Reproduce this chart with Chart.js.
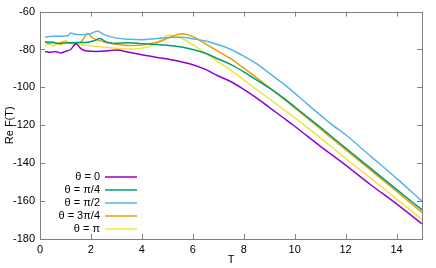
<!DOCTYPE html>
<html>
<head>
<meta charset="utf-8">
<script src="https://cdn.jsdelivr.net/npm/chart.js@4.4.1/dist/chart.umd.min.js"></script>
<style>
  html, body { margin: 0; padding: 0; background: #fff; }
  #wrap { width: 436px; height: 268px; position: relative; }
</style>
</head>
<body>
<div id="wrap"><canvas id="chart"></canvas></div>
<script>
// series labels and colours (gnuplot defaults)
const LABELS = ['θ = 0', 'θ = π/4', 'θ = π/2', 'θ = 3π/4', 'θ = π'];
const COLORS = ['#9400d3', '#009e73', '#56b4e9', '#e69f00', '#f0e442'];

const X_TICKS = [0, 2, 4, 6, 8, 10, 12, 14];
const Y_TICKS = [-180, -160, -140, -120, -100, -80, -60];

// theta = 0
const tPurple = [0.2, 0.4, 0.6, 0.8, 1.0, 1.2, 1.42, 1.6, 1.84, 2.2, 2.6, 3.0, 3.5, 4, 4.5, 5, 5.5, 6, 6.5, 7, 7.5, 8, 8.5, 9, 9.5, 10, 11, 12, 13, 14, 15];
const vPurple = [-81, -81.5, -81, -81.8, -81, -80, -77, -79.5, -80.8, -81, -80.8, -80.3, -81.5, -82.8, -84, -85, -86.3, -88, -90.5, -94, -97, -101, -105.5, -110.5, -115.5, -120.5, -131, -141, -151.5, -161.5, -172];

// theta = pi/4
const tGreen = [0.2, 0.5, 0.8, 1.1, 1.4, 1.8, 2.1, 2.35, 2.6, 2.9, 3.5, 4, 4.5, 5, 5.5, 6, 6.5, 7, 7.5, 8, 8.5, 9, 9.5, 10, 10.5, 11, 12, 13, 14, 15];
const vGreen = [-76, -76.3, -76.8, -76.5, -76.3, -76.3, -75.5, -74.2, -76, -76.8, -76.4, -76.9, -77.3, -77.8, -78.6, -80, -82, -85, -88, -91.8, -96, -100.3, -105, -110.2, -115.6, -121, -132, -142.9, -153.8, -164.6];

// theta = pi/2
const tBlue = [0.2, 0.5, 0.8, 1.1, 1.2, 1.4, 1.6, 1.9, 2.1, 2.25, 2.5, 3.0, 3.5, 4, 4.5, 5, 5.5, 6, 6.5, 7, 7.5, 8, 8.5, 9, 9.5, 10, 10.5, 11, 11.5, 12, 13, 14, 15];
const vBlue = [-73.4, -73, -73, -72.8, -71.3, -72, -72.2, -72, -71, -70.3, -72, -74, -74.6, -74.8, -74.3, -73.7, -73.6, -74.3, -75.5, -77.5, -80, -83.5, -87.5, -92.5, -97.5, -103, -108.8, -114.5, -120, -125, -136.5, -148, -160];

// theta = 3pi/4
const tOrange = [0.2, 0.35, 0.5, 0.7, 0.9, 1.1, 1.4, 1.65, 1.87, 2.05, 2.3, 2.6, 3, 3.5, 3.9, 4.3, 4.7, 5.1, 5.57, 6, 6.5, 7, 7.5, 8, 8.5, 9, 9.5, 10, 11, 12, 13, 14, 15];
const vOrange = [-76, -77, -76, -76.8, -76, -76.5, -76.7, -75.5, -71.5, -73.8, -75.2, -76.3, -77.2, -77.9, -77.8, -77, -75.8, -73.5, -71.7, -73.2, -77, -81, -85, -89.8, -94.8, -100, -105.4, -110.8, -121.8, -132.8, -143.8, -154.8, -166];

// theta = pi
const tYellow = [0.2, 0.35, 0.5, 0.7, 0.85, 1.0, 1.2, 1.5, 1.8, 2.2, 2.7, 3.2, 3.7, 4.1, 4.5, 4.8, 5.05, 5.3, 5.7, 6, 6.5, 7, 7.5, 8, 8.5, 9, 9.5, 10, 11, 12, 13, 14, 15];
const vYellow = [-78, -77, -78.2, -77, -77.5, -75.3, -77, -77.2, -77.8, -78.3, -79, -79.6, -79.8, -79, -77.5, -74.5, -72.3, -72.8, -75, -77.5, -82, -86.5, -91, -96, -101, -106, -111, -116, -126.5, -137.5, -148, -158.8, -169.6];

const SERIES = [
  [tPurple, vPurple],
  [tGreen, vGreen],
  [tBlue, vBlue],
  [tOrange, vOrange],
  [tYellow, vYellow]
];

const FONT = { family: '"Liberation Sans", Arial, sans-serif', size: 11 };
const FRAME = '#808080';

// gnuplot-like frame with inward ticks on all four sides
const framePlugin = {
  id: 'frame',
  afterDatasetsDraw(chart) {
    const { ctx, chartArea: a, scales: { x, y } } = chart;
    ctx.save();
    ctx.strokeStyle = FRAME;
    ctx.lineWidth = 1;
    ctx.beginPath();
    X_TICKS.forEach(v => {
      const px = Math.round(x.getPixelForValue(v)) + 0.5;
      ctx.moveTo(px, a.bottom); ctx.lineTo(px, a.bottom - 5);
      ctx.moveTo(px, a.top); ctx.lineTo(px, a.top + 5);
    });
    Y_TICKS.forEach(v => {
      const py = Math.round(y.getPixelForValue(v)) + 0.5;
      ctx.moveTo(a.left, py); ctx.lineTo(a.left + 5, py);
      ctx.moveTo(a.right, py); ctx.lineTo(a.right - 5, py);
    });
    ctx.stroke();
    ctx.strokeRect(Math.round(a.left) + 0.5, Math.round(a.top) + 0.5,
                   Math.round(a.right - a.left), Math.round(a.bottom - a.top));
    ctx.restore();
  }
};

// key in the lower left corner: right-aligned text, then a line sample
const keyPlugin = {
  id: 'key',
  afterDatasetsDraw(chart) {
    const { ctx, chartArea: a } = chart;
    ctx.save();
    ctx.font = `${FONT.size}px ${FONT.family}`;
    ctx.textAlign = 'right';
    ctx.textBaseline = 'middle';
    LABELS.forEach((label, i) => {
      const yy = a.bottom - 10 - 13 * (LABELS.length - 1 - i);
      ctx.fillStyle = '#000';
      ctx.fillText(label, a.left + 60, yy);
      ctx.strokeStyle = COLORS[i];
      ctx.lineWidth = 1.5;
      ctx.beginPath();
      ctx.moveTo(a.left + 65, yy);
      ctx.lineTo(a.left + 97, yy);
      ctx.stroke();
    });
    ctx.restore();
  }
};

new Chart(document.getElementById('chart'), {
  type: 'line',
  data: {
    datasets: SERIES.map(([ts, vs], i) => ({
      label: LABELS[i],
      data: ts.map((t, k) => ({ x: t, y: vs[k] })),
      borderColor: COLORS[i],
      backgroundColor: COLORS[i],
      borderWidth: 1.5,
      pointRadius: 0,
      cubicInterpolationMode: 'monotone',
      fill: false
    }))
  },
  options: {
    responsive: true,
    maintainAspectRatio: false,
    animation: false,
    layout: { padding: { top: 9, right: 14, left: 0, bottom: 0 } },
    plugins: {
      legend: { display: false },
      tooltip: { enabled: false }
    },
    scales: {
      x: {
        type: 'linear',
        min: 0,
        max: 15,
        grid: { display: false, drawTicks: false },
        border: { display: false },
        afterBuildTicks: s => { s.ticks = X_TICKS.map(v => ({ value: v })); },
        afterFit: s => { s.height = 29; },
        ticks: { color: '#000', font: FONT, padding: 4, maxRotation: 0 },
        title: { display: true, text: 'T', color: '#000', font: FONT, padding: { top: 0, bottom: 1 } }
      },
      y: {
        min: -180,
        max: -60,
        grid: { display: false, drawTicks: false },
        border: { display: false },
        afterBuildTicks: s => { s.ticks = Y_TICKS.map(v => ({ value: v })); },
        afterFit: s => { s.width = 40; },
        ticks: { color: '#000', font: FONT, padding: 5 },
        title: { display: true, text: 'Re F(T)', color: '#000', font: FONT, padding: { top: 3, bottom: 0 } }
      }
    }
  },
  plugins: [framePlugin, keyPlugin]
});
</script>
</body>
</html>
